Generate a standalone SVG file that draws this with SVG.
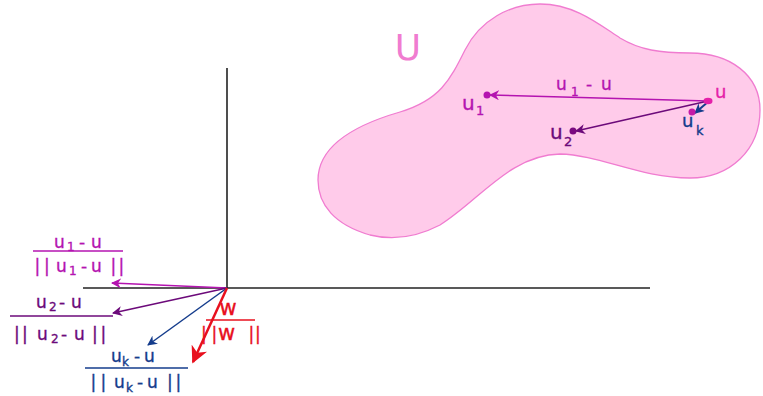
<svg xmlns="http://www.w3.org/2000/svg" width="763" height="396" viewBox="0 0 763 396">
<style>
text{font-family:"DejaVu Sans","Open Sans",sans-serif;stroke-width:0.35px}
.m{fill:#b414b0;stroke:#b414b0}.p{fill:#6c0a7a;stroke:#6c0a7a}.n{fill:#143c8c;stroke:#143c8c}.r{fill:#e8101e;stroke:#e8101e}.k{fill:#e51fa9;stroke:#e51fa9}
.fm{stroke:#b414b0}.fp{stroke:#6c0a7a}.fn{stroke:#143c8c}
.f{font-size:17px}.s{font-size:12px}
</style>
<defs>
<marker id="am" viewBox="0 0 10 10" refX="9" refY="5" markerWidth="10" markerHeight="10" markerUnits="userSpaceOnUse" orient="auto"><path d="M0,0 L10,5 L0,10 L3,5 Z" fill="#b414b0"/></marker>
<marker id="ap" viewBox="0 0 10 10" refX="9" refY="5" markerWidth="10" markerHeight="10" markerUnits="userSpaceOnUse" orient="auto"><path d="M0,0 L10,5 L0,10 L3,5 Z" fill="#6c0a7a"/></marker>
<marker id="an" viewBox="0 0 10 10" refX="9" refY="5" markerWidth="10" markerHeight="10" markerUnits="userSpaceOnUse" orient="auto"><path d="M0,0 L10,5 L0,10 L3,5 Z" fill="#143c8c"/></marker>
<marker id="ar" viewBox="0 0 10 10" refX="9" refY="5" markerWidth="17" markerHeight="17" markerUnits="userSpaceOnUse" orient="auto"><path d="M0,0 L10,5 L0,10 L3,5 Z" fill="#e8101e"/></marker>
</defs>
<g id="region-U">
<path d="M318,180 C318,145 355,125 400,112 C440,100 450,80 465,50 C480,20 510,4 540,4 C575,4 600,25 620,38 C640,50 660,53 690,53 C730,53 760,75 760,110 C760,150 730,178 690,178 C640,178 600,155 560,154 C510,155 480,200 440,225 C415,238 390,240 370,235 C335,225 318,205 318,180 Z" fill="#ffcbea" stroke="#f07cd0" stroke-width="1.3"/>
<text x="408" y="60" font-size="36" text-anchor="middle" fill="#f07cd0">U</text>
</g>
<g id="axes" stroke="#222" stroke-width="1.6">
<line x1="227" y1="68" x2="227" y2="288"/>
<line x1="83" y1="288" x2="650" y2="288"/>
</g>
<g id="connectors" fill="none">
<line x1="708" y1="101" x2="490" y2="95" class="fm" stroke-width="1.5" marker-end="url(#am)"/>
<line x1="708" y1="101" x2="576" y2="131" class="fp" stroke-width="1.5" marker-end="url(#ap)"/>
<line x1="709" y1="101" x2="695" y2="113" class="fn" stroke-width="2" marker-end="url(#an)"/>
<line x1="227" y1="288" x2="112" y2="283" class="fm" stroke-width="1.5" marker-end="url(#am)"/>
<line x1="227" y1="288" x2="113" y2="313" class="fp" stroke-width="1.5" marker-end="url(#ap)"/>
<line x1="227" y1="288" x2="148" y2="345" class="fn" stroke-width="1.5" marker-end="url(#an)"/>
<line x1="227" y1="288" x2="193" y2="362" stroke="#e8101e" stroke-width="2.5" marker-end="url(#ar)"/>
</g>
<g id="node-u">
<ellipse cx="708" cy="101" rx="4.5" ry="3.2" fill="#e51fa9"/>
<text x="715" y="98" font-size="18" class="k">u</text>
</g>
<g id="node-u1">
<circle cx="487" cy="95" r="3.5" fill="#b414b0"/>
<text y="110" font-size="20" class="m"><tspan x="462">u</tspan><tspan x="476" dy="5" font-size="13">1</tspan></text>
</g>
<g id="node-u2">
<circle cx="573" cy="131" r="3.5" fill="#7a0a80"/>
<text y="139" font-size="20" class="p"><tspan x="550">u</tspan><tspan x="564" dy="7" font-size="13">2</tspan></text>
</g>
<g id="node-uk">
<circle cx="692" cy="112" r="3.5" fill="#c41aa8"/>
<text y="127" font-size="18" class="n"><tspan x="682">u</tspan><tspan x="696" dy="8" font-size="13">k</tspan></text>
</g>
<g id="label-u1-u">
<text y="90" font-size="17" class="m"><tspan x="556">u</tspan><tspan x="571" dy="6" font-size="12">1</tspan><tspan x="586" dy="-6">-</tspan><tspan x="601">u</tspan></text>
</g>
<g id="frac-u1">
<text y="248" class="f m"><tspan x="54">u</tspan><tspan x="67" dy="3" class="s">1</tspan><tspan x="79" dy="-3">-</tspan><tspan x="91">u</tspan></text>
<line x1="33" y1="251" x2="123" y2="251" class="fm" stroke-width="1.3"/>
<text y="272" class="f m"><tspan x="34.5">|</tspan><tspan x="44">|</tspan><tspan x="56">u</tspan><tspan x="69" dy="3" class="s">1</tspan><tspan x="81" dy="-3">-</tspan><tspan x="91">u</tspan><tspan x="110.5">|</tspan><tspan x="118.5">|</tspan></text>
</g>
<g id="frac-u2">
<text y="308" class="f p"><tspan x="36">u</tspan><tspan x="49" dy="3" class="s">2</tspan><tspan x="59" dy="-3">-</tspan><tspan x="71">u</tspan></text>
<line x1="10" y1="316" x2="113" y2="316" class="fp" stroke-width="1.3"/>
<text y="340" class="f p"><tspan x="14">|</tspan><tspan x="22">|</tspan><tspan x="37">u</tspan><tspan x="51" dy="3" class="s">2</tspan><tspan x="61" dy="-3">-</tspan><tspan x="74">u</tspan><tspan x="92">|</tspan><tspan x="100.5">|</tspan></text>
</g>
<g id="frac-uk">
<text y="362" class="f n"><tspan x="111">u</tspan><tspan x="122" dy="4" class="s">k</tspan><tspan x="134" dy="-4">-</tspan><tspan x="144">u</tspan></text>
<line x1="85" y1="368" x2="188" y2="368" class="fn" stroke-width="1.3"/>
<text y="388" class="f n"><tspan x="90.5">|</tspan><tspan x="100.5">|</tspan><tspan x="114">u</tspan><tspan x="126" dy="4" class="s">k</tspan><tspan x="137" dy="-4">-</tspan><tspan x="147">u</tspan><tspan x="167">|</tspan><tspan x="175.5">|</tspan></text>
</g>
<g id="frac-w">
<text x="228" y="315" font-size="21" class="r" text-anchor="middle">w</text>
<line x1="206" y1="320" x2="255" y2="320" stroke="#e8101e" stroke-width="1.3"/>
<text y="340" class="f r"><tspan x="201">|</tspan><tspan x="211.5">|</tspan><tspan x="218" font-size="21">w</tspan><tspan x="248.5">|</tspan><tspan x="255">|</tspan></text>
</g>
</svg>
